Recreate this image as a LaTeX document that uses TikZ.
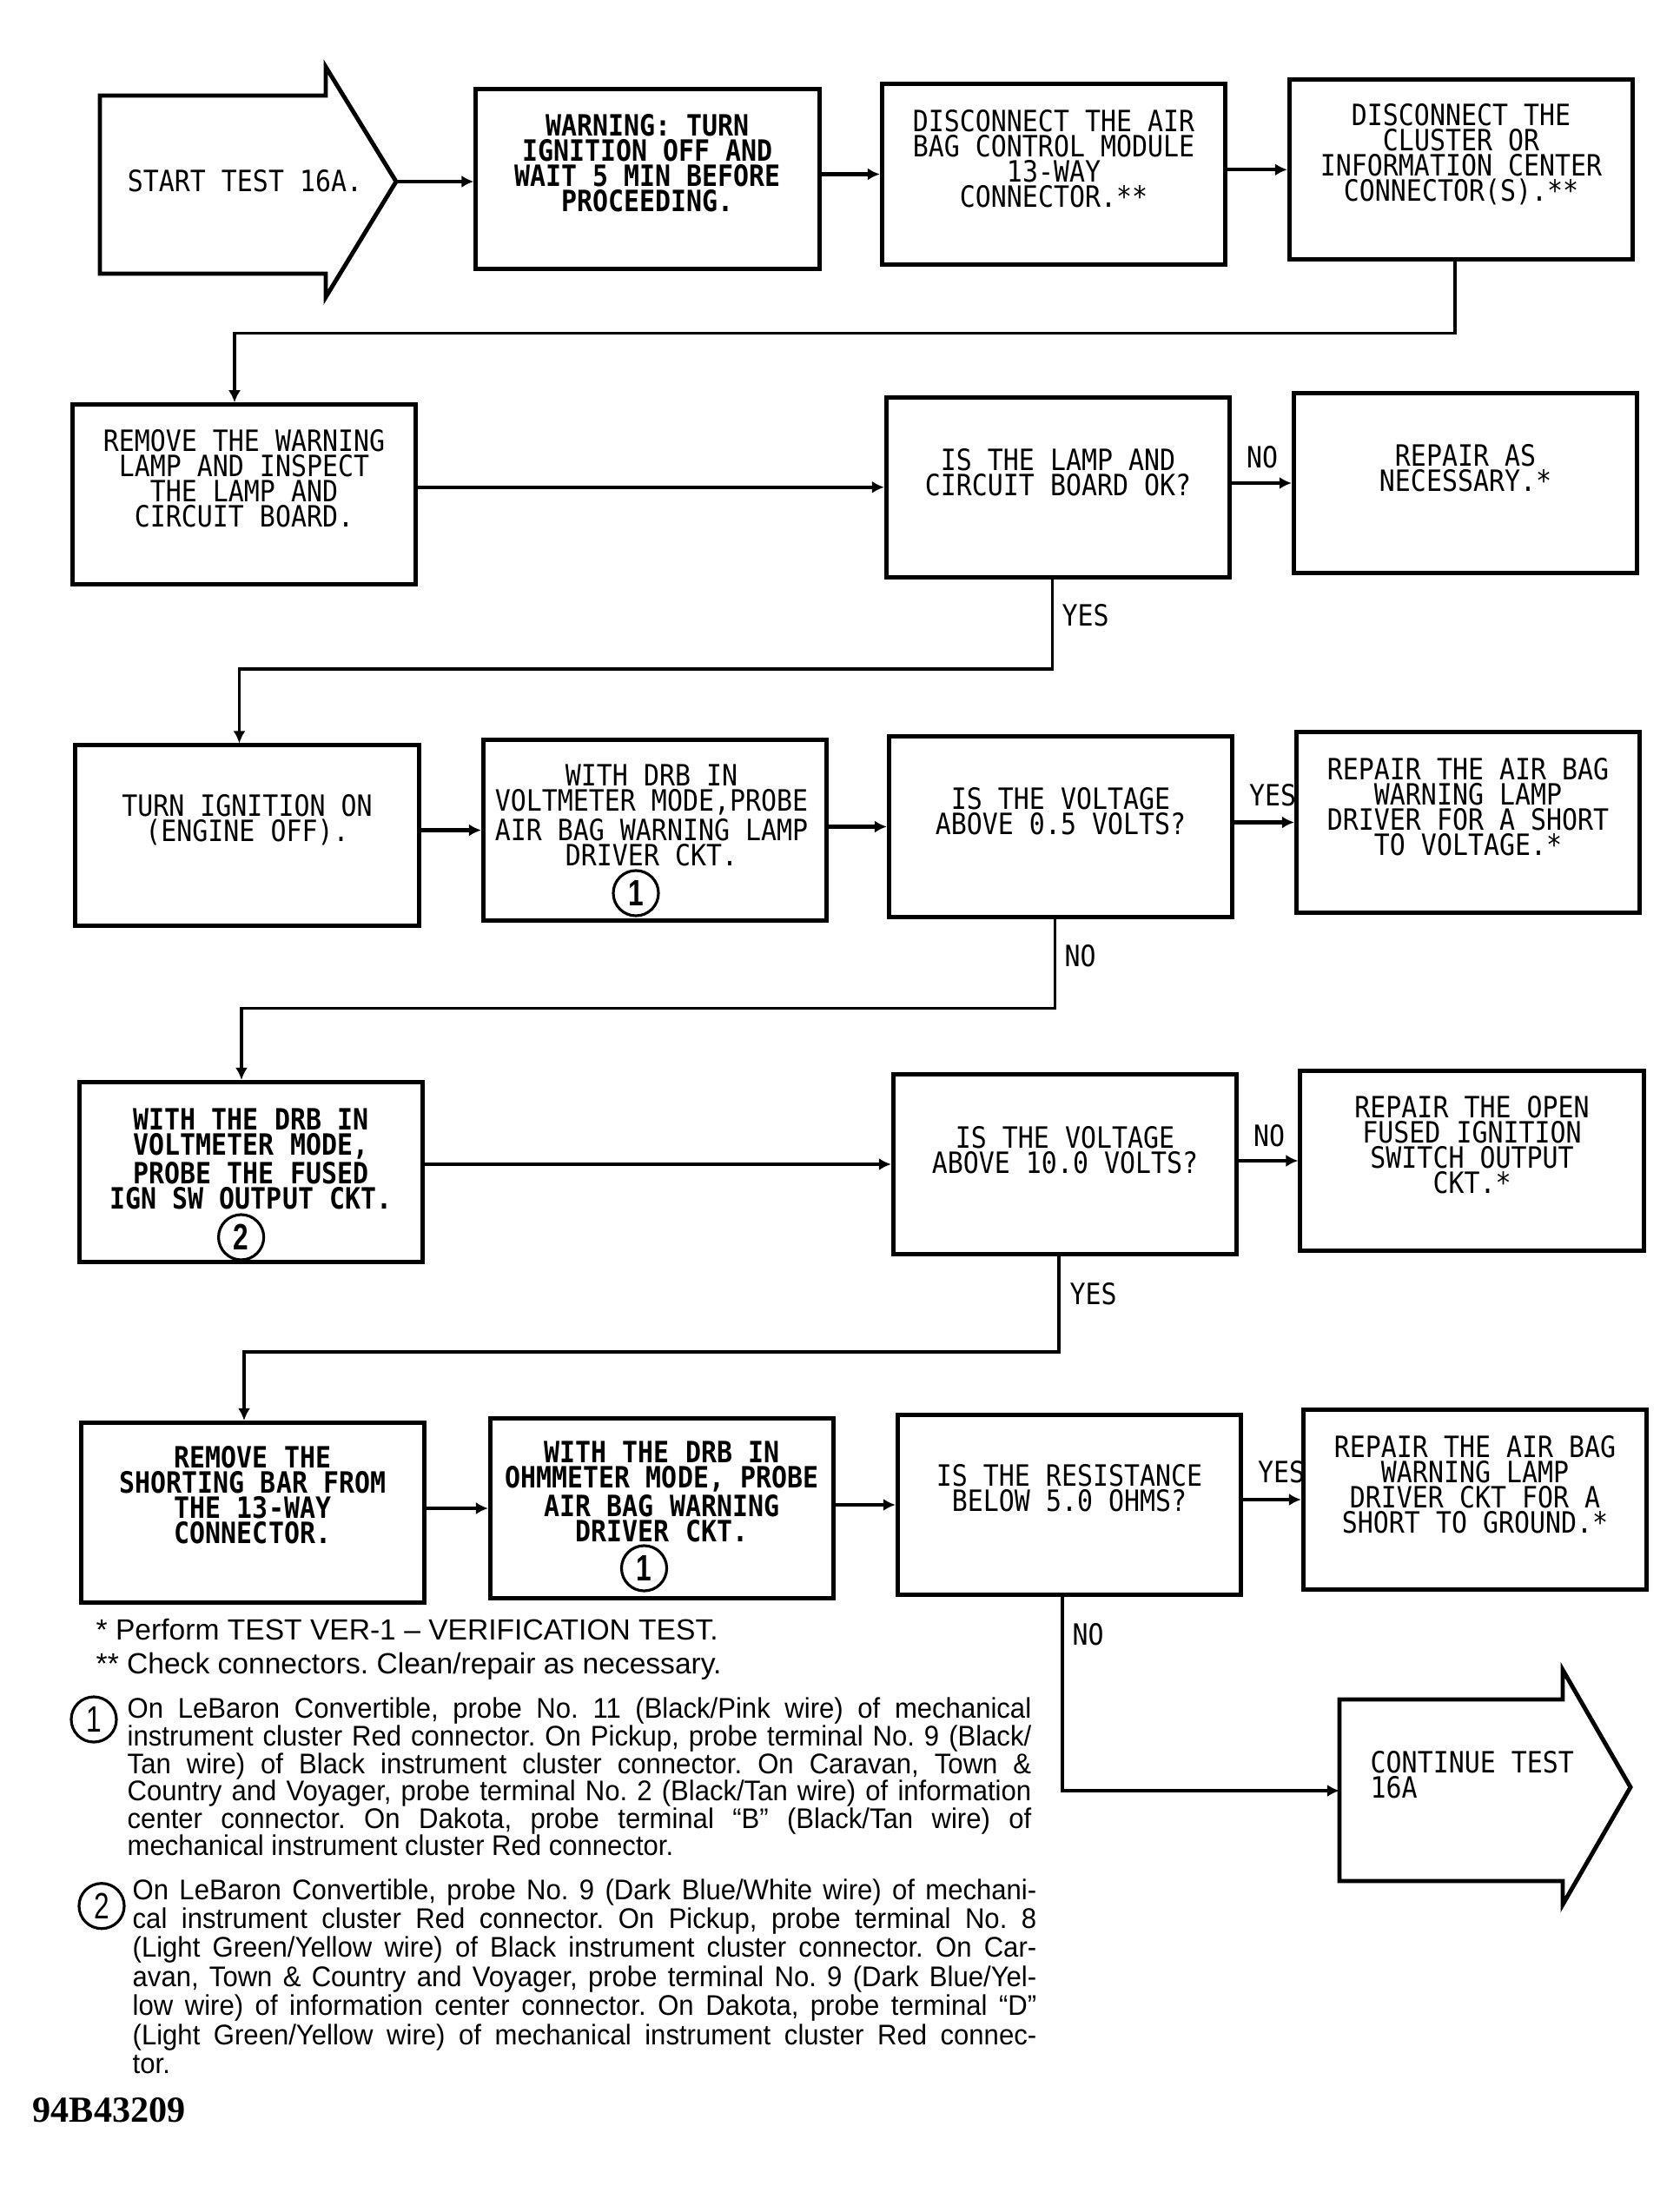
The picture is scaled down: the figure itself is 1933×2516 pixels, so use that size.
\documentclass[tikz,border=0pt]{standalone}
\usepackage{fontspec}
\usetikzlibrary{arrows.meta}
\newfontfamily\plotfont[FakeStretch=0.886]{DejaVu Sans Mono}
\newfontfamily\notefont{Liberation Sans}
\newfontfamily\parfont[FakeStretch=0.95]{Liberation Sans}
\newfontfamily\numfont[FakeStretch=0.75]{Liberation Sans}
\newfontfamily\codefont{Liberation Serif}
\newcommand\boxfont{\plotfont\fontsize{9.6pt}{8.25pt}\selectfont}
\newcommand\jl[1]{{\spaceskip=0pt\relax\makebox[10.4cm][s]{#1}}}
\frenchspacing
\begin{document}
\begin{tikzpicture}[x=0.01cm,y=-0.01cm,>={Latex[length=4pt,width=4pt]},
  stepbox/.style={draw,line width=1.4pt,minimum width=3.95cm,minimum height=2.07cm,inner sep=0pt},
  boxtext/.style={font=\boxfont,align=center,inner sep=0pt},
  flow/.style={->,line width=1.2pt},
  route/.style={->,line width=1pt},
  answer/.style={font=\boxfont,inner sep=0pt},
  marker/.style={draw,circle,line width=0.9pt,minimum size=0.52cm,inner sep=0pt,
    font=\numfont\bfseries\fontsize{12pt}{12pt}\selectfont},
  note/.style={font=\notefont\fontsize{9.55pt}{9pt}\selectfont,inner sep=0pt,anchor=base west},
  notepar/.style={note,text width=10.4cm,align=flush left},
  bigarrow/.style={line width=1.4pt,line join=miter}]
\useasboundingbox (0,0) rectangle (1933,2516);

% first row
\draw[bigarrow] (115,110) -- (375,110) -- (375,77) -- (456,209) -- (375,342)
  -- (375,315) -- (115,315) -- cycle;
\node[boxtext] (start) at (282,208) {START TEST 16A.};
\coordinate (start-tip) at (456,209);
\node[stepbox] (warn) at (745.5,206) {};
\node[boxtext,font=\boxfont\bfseries] (warn-t) at (745.5,187.5)
  {WARNING: TURN\\IGNITION OFF AND\\WAIT 5 MIN BEFORE\\PROCEEDING.};
\node[stepbox] (dam) at (1213,200.5) {};
\node[boxtext] (dam-t) at (1213,183)
  {DISCONNECT THE AIR\\BAG CONTROL MODULE\\13-WAY\\CONNECTOR.**};
\node[stepbox] (dcl) at (1682,195.3) {};
\node[boxtext] (dcl-t) at (1682,178)
  {DISCONNECT THE\\CLUSTER OR\\INFORMATION CENTER\\CONNECTOR(S).**};
\draw[flow] (start-tip) -- (start-tip -| warn.west);
\draw[flow] (dam.west -| warn.east) -- (dam.west);
\draw[flow] (dcl.west -| dam.east) -- (dcl.west);

% second row
\node[stepbox] (rem) at (281,569.3) {};
\node[boxtext] (rem-t) at (281,551)
  {REMOVE THE WARNING\\LAMP AND INSPECT\\THE LAMP AND\\CIRCUIT BOARD.};
\node[stepbox] (lamp) at (1218,560.8) {};
\node[boxtext] (lamp-t) at (1218,543.5) {IS THE LAMP AND\\CIRCUIT BOARD OK?};
\node[stepbox] (rpn) at (1687,556) {};
\node[boxtext] (rpn-t) at (1687,538.5) {REPAIR AS\\NECESSARY.*};
\draw[route] ([xshift=-0.07cm]dcl.south) -- ++(0,82) -| ([xshift=-0.11cm]rem.north);
\draw[flow] (lamp.west -| rem.east) -- (lamp.west);
\draw[flow] (rpn.west -| lamp.east) -- (rpn.west);
\node[answer] (no1) at (1453,526) {NO};

% third row
\node[stepbox] (ign) at (284.5,961.5) {};
\node[boxtext] (ign-t) at (284.5,944) {TURN IGNITION ON\\(ENGINE OFF).};
\node[stepbox] (drb) at (754,955.5) {};
\node[boxtext] (drb-t) at (750,938.5)
  {WITH DRB IN\\VOLTMETER MODE,PROBE\\AIR BAG WARNING LAMP\\DRIVER CKT.};
\node[marker] (drb-m) at (732,1028) {1};
\node[stepbox] (v05) at (1221,951.5) {};
\node[boxtext] (v05-t) at (1221,933.5) {IS THE VOLTAGE\\ABOVE 0.5 VOLTS?};
\node[stepbox] (rsv) at (1690,946.5) {};
\node[boxtext] (rsv-t) at (1690,929)
  {REPAIR THE AIR BAG\\WARNING LAMP\\DRIVER FOR A SHORT\\TO VOLTAGE.*};
\draw[route] ([xshift=-0.065cm]lamp.south) -- ++(0,103) -| ([xshift=-0.09cm]ign.north);
\node[answer,anchor=west] (yes1) at (1222,708) {YES};
\draw[flow] (drb.west -| ign.east) -- (drb.west);
\draw[flow] (v05.west -| drb.east) -- (v05.west);
\draw[flow] (rsv.west -| v05.east) -- (rsv.west);
\node[answer] (yes2) at (1465,915) {YES};

% fourth row
\node[stepbox] (ign2) at (289,1349) {};
\node[boxtext,font=\boxfont\bfseries] (ign2-t) at (289,1334)
  {WITH THE DRB IN\\VOLTMETER MODE,\\PROBE THE FUSED\\IGN SW OUTPUT CKT.};
\node[marker] (ign2-m) at (277.6,1424) {2};
\node[stepbox] (v10) at (1226,1340) {};
\node[boxtext] (v10-t) at (1226,1324) {IS THE VOLTAGE\\ABOVE 10.0 VOLTS?};
\node[stepbox] (rop) at (1694.5,1336) {};
\node[boxtext] (rop-t) at (1694.5,1318)
  {REPAIR THE OPEN\\FUSED IGNITION\\SWITCH OUTPUT\\CKT.*};
\draw[route] ([xshift=-0.065cm]v05.south) -- ++(0,103) -| ([xshift=-0.11cm]ign2.north);
\node[answer,anchor=west] (no2) at (1225,1100) {NO};
\draw[flow] (v10.west -| ign2.east) -- (v10.west);
\draw[flow] (rop.west -| v10.east) -- (rop.west);
\node[answer] (no3) at (1461,1307) {NO};

% fifth row
\node[stepbox] (bar) at (291,1741) {};
\node[boxtext,font=\boxfont\bfseries] (bar-t) at (291,1721)
  {REMOVE THE\\SHORTING BAR FROM\\THE 13-WAY\\CONNECTOR.};
\node[stepbox] (ohm) at (762,1736) {};
\node[boxtext,font=\boxfont\bfseries] (ohm-t) at (762,1717)
  {WITH THE DRB IN\\OHMMETER MODE, PROBE\\AIR BAG WARNING\\DRIVER CKT.};
\node[marker] (ohm-m) at (741.5,1805) {1};
\node[stepbox] (res) at (1231,1732) {};
\node[boxtext] (res-t) at (1231,1712.5) {IS THE RESISTANCE\\BELOW 5.0 OHMS?};
\node[stepbox] (rsg) at (1698,1726) {};
\node[boxtext] (rsg-t) at (1698,1708.5)
  {REPAIR THE AIR BAG\\WARNING LAMP\\DRIVER CKT FOR A\\SHORT TO GROUND.*};
\draw[route] ([xshift=-0.07cm]v10.south) -- ++(0,110) -| ([xshift=-0.1cm]bar.north);
\node[answer,anchor=west] (yes3) at (1231,1489) {YES};
\draw[flow] (ohm.west -| bar.east) -- (ohm.west);
\draw[flow] (res.west -| ohm.east) -- (res.west);
\draw[flow] (rsg.west -| res.east) -- (rsg.west);
\node[answer] (yes4) at (1475,1694.5) {YES};

% continue
\draw[bigarrow] (1542,1956) -- (1799,1956) -- (1799,1922) -- (1877,2057) -- (1799,2192)
  -- (1799,2165) -- (1542,2165) -- cycle;
\coordinate (cont-in) at (1542,2061);
\node[boxtext,align=left,anchor=west] (cont) at (1577,2043) {CONTINUE TEST\\16A};
\draw[route] ([xshift=-0.08cm]res.south) |- (cont-in);
\node[answer,anchor=west] (no4) at (1234,1881) {NO};

% notes
\node[note] (fn1) at (110,1887) {* Perform TEST VER-1 – VERIFICATION TEST.};
\node[note] (fn2) at (110,1926.5) {** Check connectors. Clean/repair as necessary.};
\node[marker,font=\numfont\fontsize{12pt}{12pt}\selectfont] (m1) at (108,1979) {1};
\node[notepar,font=\parfont\fontsize{9.3pt}{9pt}\selectfont] (n1) at (146,1977.7)
  {\jl{On LeBaron Convertible, probe No. 11 (Black/Pink wire) of mechanical}\\
   \jl{instrument cluster Red connector. On Pickup, probe terminal No. 9 (Black/}\\
   \jl{Tan wire) of Black instrument cluster connector. On Caravan, Town \&}\\
   \jl{Country and Voyager, probe terminal No. 2 (Black/Tan wire) of information}\\
   \jl{center connector. On Dakota, probe terminal “B” (Black/Tan wire) of}\\
   mechanical instrument cluster Red connector.};
\node[marker,font=\numfont\fontsize{12pt}{12pt}\selectfont] (m2) at (117,2193.7) {2};
\node[notepar,font=\parfont\fontsize{9.3pt}{9.5pt}\selectfont] (n2) at (152,2186)
  {\jl{On LeBaron Convertible, probe No. 9 (Dark Blue/White wire) of mechani-}\\
   \jl{cal instrument cluster Red connector. On Pickup, probe terminal No. 8}\\
   \jl{(Light Green/Yellow wire) of Black instrument cluster connector. On Car-}\\
   \jl{avan, Town \& Country and Voyager, probe terminal No. 9 (Dark Blue/Yel-}\\
   \jl{low wire) of information center connector. On Dakota, probe terminal “D”}\\
   \jl{(Light Green/Yellow wire) of mechanical instrument cluster Red connec-}\\
   tor.};
\node[anchor=base west,inner sep=0pt,font=\codefont\bfseries\fontsize{12pt}{12pt}\selectfont]
  (fig) at (37,2442) {94B43209};
\end{tikzpicture}
\end{document}
